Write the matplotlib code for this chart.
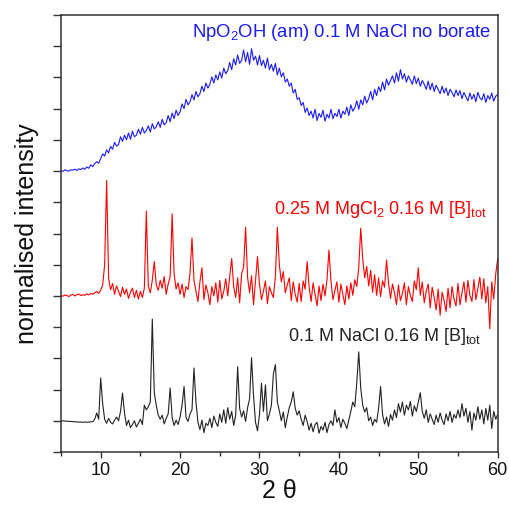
import numpy as np
import matplotlib
matplotlib.use("Agg")
import matplotlib.pyplot as plt
from matplotlib.ticker import MultipleLocator, NullFormatter

plt.rcParams['font.family'] = ['Liberation Sans', 'DejaVu Sans']
plt.rcParams['mathtext.fontset'] = 'custom'
plt.rcParams['mathtext.rm'] = 'Liberation Sans'
plt.rcParams['mathtext.it'] = 'Liberation Sans'

# 2-theta grid (degrees), 0.25 deg step from 5 to 60
two_theta = np.arange(5.0, 60.001, 0.25)

blue_no_borate = [
    9.02, 8.99, 9.04, 9.01, 9.00, 9.04, 9.03, 9.06, 9.02, 9.07, 9.05, 9.10, 9.06, 9.13, 9.09, 9.20, 9.14, 9.24, 9.30, 9.25,
    9.40, 9.55, 9.48, 9.68, 9.58, 9.79, 9.70, 9.92, 9.80, 9.85, 10.10, 9.95, 10.15, 10.00, 10.22, 10.02, 10.28, 10.10, 10.15, 10.34,
    10.18, 10.40, 10.22, 10.30, 10.45, 10.25, 10.52, 10.35, 10.42, 10.58, 10.40, 10.66, 10.48, 10.55, 10.78, 10.58, 10.86, 10.68, 10.95, 10.78,
    10.90, 11.15, 11.00, 11.30, 11.12, 11.22, 11.45, 11.28, 11.55, 11.38, 11.48, 11.72, 11.55, 11.82, 11.66, 11.78, 12.02, 11.82, 12.08, 11.92,
    12.18, 11.98, 12.30, 12.12, 12.22, 12.48, 12.25, 12.60, 12.40, 12.72, 12.45, 12.55, 12.88, 12.50, 12.80, 12.42, 12.92, 12.55, 12.68, 12.40,
    12.70, 12.38, 12.55, 12.30, 12.62, 12.25, 12.42, 12.20, 12.45, 12.08, 12.30, 12.02, 12.15, 11.85, 11.95, 11.72, 11.82, 11.50, 11.62, 11.30,
    11.35, 11.10, 11.20, 10.88, 11.02, 10.78, 10.92, 10.70, 10.98, 10.62, 10.85, 10.72, 10.95, 10.60, 10.82, 10.70, 10.98, 10.68, 10.85, 10.75,
    10.98, 10.70, 10.92, 10.82, 11.05, 10.78, 11.12, 10.92, 11.02, 11.25, 10.98, 11.28, 11.12, 11.40, 11.18, 11.32, 11.55, 11.28, 11.62, 11.42,
    11.70, 11.55, 11.85, 11.60, 11.95, 11.75, 11.90, 12.05, 11.82, 12.15, 11.88, 12.25, 11.95, 12.12, 11.85, 12.05, 11.92, 11.78, 12.05, 11.80,
    11.98, 11.72, 11.90, 11.78, 11.62, 11.88, 11.60, 11.82, 11.55, 11.75, 11.62, 11.48, 11.72, 11.50, 11.66, 11.42, 11.62, 11.52, 11.38, 11.60,
    11.42, 11.58, 11.32, 11.52, 11.38, 11.25, 11.50, 11.30, 11.46, 11.22, 11.52, 11.35, 11.28, 11.48, 11.20, 11.42, 11.30, 11.50, 11.24, 11.40,
    11.45,
]

red_mgcl2_borate = [
    5.02, 4.99, 5.03, 5.01, 4.98, 5.03, 5.05, 5.00, 5.04, 5.06, 5.01, 5.04, 5.02, 5.07, 5.03, 5.08, 5.05, 5.10, 5.14, 5.08,
    5.18, 5.35, 6.00, 8.70, 5.55, 5.20, 5.40, 5.05, 5.32, 5.15, 4.98, 5.28, 5.05, 5.22, 4.92, 5.12, 5.25, 4.95, 5.18, 4.90,
    5.15, 4.95, 5.25, 7.72, 5.30, 5.10, 5.50, 6.10, 5.35, 5.18, 5.50, 5.25, 5.62, 5.05, 5.38, 5.62, 7.63, 5.70, 5.22, 5.42,
    5.05, 5.38, 4.95, 5.30, 5.20, 5.72, 6.86, 5.50, 5.15, 4.82, 5.45, 5.90, 4.88, 5.35, 5.10, 4.72, 5.30, 5.00, 5.42, 4.80,
    5.50, 4.90, 5.15, 5.55, 5.00, 5.62, 6.20, 5.30, 4.95, 5.58, 4.78, 5.72, 5.92, 7.20, 5.60, 5.10, 5.65, 4.72, 5.50, 6.26,
    5.38, 4.88, 5.15, 5.48, 4.75, 5.30, 5.10, 4.95, 5.62, 7.20, 6.00, 5.45, 5.78, 5.10, 5.35, 5.58, 4.85, 5.45, 5.05, 4.80,
    5.40, 4.82, 5.48, 5.22, 6.10, 5.30, 4.82, 5.42, 5.05, 4.68, 5.32, 4.85, 5.38, 5.00, 5.52, 6.47, 5.48, 4.88, 5.18, 5.45,
    4.80, 5.38, 5.05, 4.72, 5.32, 4.90, 5.42, 5.02, 5.52, 5.30, 5.90, 7.17, 6.20, 5.58, 5.95, 5.32, 5.82, 5.12, 5.68, 5.02,
    5.58, 4.98, 5.48, 5.28, 6.15, 5.42, 4.92, 5.38, 5.10, 4.72, 5.35, 4.85, 5.08, 5.42, 4.72, 5.30, 5.02, 4.82, 5.48, 5.20,
    5.90, 5.02, 5.45, 4.78, 5.15, 5.38, 4.62, 5.28, 4.95, 4.55, 5.22, 4.38, 5.12, 4.85, 4.50, 5.25, 4.62, 5.30, 4.90, 4.68,
    5.40, 4.72, 5.10, 5.45, 4.80, 5.50, 5.02, 4.82, 5.52, 4.88, 5.25, 5.60, 4.90, 5.55, 4.78, 5.30, 3.95, 5.45, 4.90, 5.70,
    6.20,
]

black_nacl_borate = [
    1.00, 1.00, 0.99, 0.99, 0.98, 0.98, 0.97, 0.97, 0.96, 0.96, 0.96, 0.95, 0.96, 0.95, 0.96, 0.97, 0.97, 1.05, 1.25, 1.05,
    2.37, 1.55, 1.05, 0.92, 1.08, 0.95, 0.90, 1.02, 1.12, 1.00, 1.30, 1.89, 1.25, 0.85, 1.02, 0.78, 0.88, 1.00, 0.80, 0.92,
    1.05, 0.88, 1.50, 1.35, 1.45, 1.60, 4.26, 1.90, 1.50, 1.18, 1.05, 1.18, 0.90, 1.08, 1.22, 2.05, 1.10, 0.85, 1.02, 0.88,
    1.12, 1.50, 2.10, 1.10, 0.98, 1.22, 1.35, 2.69, 1.60, 0.95, 0.72, 1.02, 0.62, 0.92, 0.85, 1.08, 0.78, 1.15, 0.95, 0.82,
    1.22, 0.95, 1.35, 0.92, 1.42, 1.05, 1.30, 0.85, 1.18, 2.73, 1.40, 1.12, 1.32, 0.98, 1.42, 1.70, 3.02, 1.80, 0.95, 0.68,
    1.20, 2.20, 1.30, 2.15, 1.00, 1.22, 1.50, 2.50, 2.80, 1.60, 1.32, 1.00, 1.28, 0.78, 1.12, 1.42, 1.60, 1.93, 1.40, 1.18,
    1.32, 1.05, 0.85, 1.18, 0.98, 0.70, 0.92, 0.65, 0.88, 0.95, 0.60, 0.82, 0.70, 0.95, 0.62, 0.88, 1.00, 0.85, 1.35, 0.95,
    1.10, 0.78, 1.05, 0.92, 0.75, 1.02, 1.30, 1.60, 1.45, 2.20, 3.21, 2.05, 1.50, 1.28, 1.42, 1.00, 1.12, 0.85, 1.05, 0.95,
    1.40, 2.10, 1.20, 0.90, 1.12, 0.82, 1.20, 1.02, 1.35, 1.10, 1.55, 1.28, 1.60, 1.18, 1.50, 1.35, 1.62, 1.15, 1.48, 1.30,
    1.60, 1.90, 1.30, 1.08, 1.35, 0.95, 1.22, 1.05, 0.88, 1.18, 0.95, 1.25, 1.02, 0.88, 1.22, 1.00, 1.30, 0.95, 1.20, 1.08,
    1.35, 1.10, 1.55, 1.15, 1.40, 0.95, 1.30, 0.70, 1.25, 1.02, 1.45, 1.05, 1.35, 0.90, 1.40, 1.02, 1.50, 0.75, 1.30, 1.05,
    1.20,
]

labels = [
    r"NpO$_2$OH (am) 0.1 M NaCl no borate",
    r"0.25 M MgCl$_2$ 0.16 M [B]$_{\mathrm{tot}}$",
    r"0.1 M NaCl 0.16 M [B]$_{\mathrm{tot}}$",
]
colors = ["#1a1aff", "#ff0000", "#222222"]

fig = plt.figure(figsize=(5.09, 5.09), dpi=100)
ax = fig.add_axes([0.1198, 0.112, 0.858, 0.8585])

ax.plot(two_theta, blue_no_borate, color=colors[0], lw=0.8)
ax.plot(two_theta, red_mgcl2_borate, color=colors[1], lw=0.8)
ax.plot(two_theta, black_nacl_borate, color=colors[2], lw=0.8)

ax.set_xlim(5, 60)
ax.set_ylim(0, 14)
ax.xaxis.set_major_locator(MultipleLocator(10))
ax.xaxis.set_minor_locator(MultipleLocator(5))
ax.yaxis.set_major_locator(MultipleLocator(1))
ax.yaxis.set_major_formatter(NullFormatter())
ax.tick_params(axis='both', which='both', direction='out', top=False, right=False,
               colors='#333333', width=1.0)
ax.tick_params(axis='x', which='major', length=4, labelsize=13, labelcolor='#111111', pad=3)
ax.tick_params(axis='x', which='minor', length=3)
ax.tick_params(axis='y', which='major', length=6)
for s in ax.spines.values():
    s.set_color('#333333')
    s.set_linewidth(1.1)

ax.set_xlabel("2 θ", fontsize=18, color='#111111', labelpad=0)
ax.set_ylabel("normalised intensity", fontsize=18, color='#111111', labelpad=6)

ax.text(59.1, 13.43, labels[0], color=colors[0], fontsize=13.3, ha='right', va='center')
ax.text(58.6, 7.76, labels[1], color=colors[1], fontsize=13, ha='right', va='center')
ax.text(57.95, 3.69, labels[2], color=colors[2], fontsize=13, ha='right', va='center')

fig.savefig("out.png", dpi=100)
